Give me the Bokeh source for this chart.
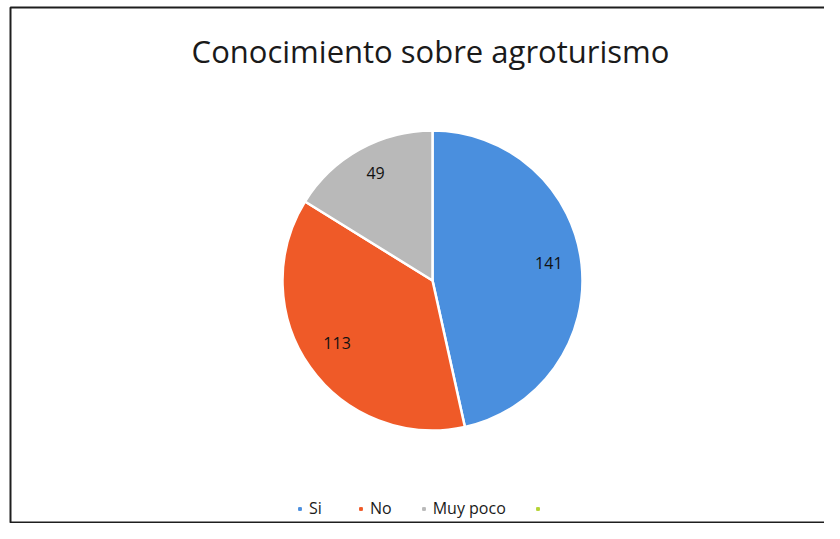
import math
from bokeh.plotting import figure
from bokeh.models import ColumnDataSource, Legend, LegendItem, Range1d
from bokeh.core.properties import value
from bokeh.embed import file_html
from bokeh.resources import INLINE

title_text = "Conocimiento sobre agroturismo"
categories = ["Si", "No", "Muy poco", ""]
counts = [141, 113, 49, 0]
colors = ["#4a8fde", "#ef5a28", "#b9b9b9", "#b5d334"]

W, H = 824, 523
cx, cy, R = 432, H - 280, 150

total = sum(counts)
starts, ends, lx, ly, labels, cols = [], [], [], [], [], []
ang = math.pi / 2
for c, col in zip(counts, colors):
    if c <= 0:
        continue
    sweep = 2 * math.pi * c / total
    starts.append(ang - sweep)
    ends.append(ang)
    mid = ang - sweep / 2
    lx.append(cx + 0.78 * R * math.cos(mid))
    ly.append(cy + 0.78 * R * math.sin(mid) + 5)
    labels.append(str(c))
    cols.append(col)
    ang -= sweep

src = ColumnDataSource(dict(start=starts, end=ends, color=cols, lx=lx, ly=ly, lab=labels))

p = figure(width=W, height=H, output_backend="svg", toolbar_location=None,
           x_range=Range1d(0, W), y_range=Range1d(0, H), min_border=0,
           background_fill_color="white", border_fill_color="white")
p.axis.visible = False
p.grid.visible = False
p.outline_line_color = None

# chart frame
p.quad(left=[10], right=[W + 10], top=[H - 7], bottom=[1],
       fill_color=None, line_color="#1e1e1e", line_width=2)

p.wedge(x=cx, y=cy, radius=R, start_angle="start", end_angle="end",
        fill_color="color", line_color="white", line_width=2.5, source=src)

p.text(x="lx", y="ly", text="lab", source=src, text_align="center",
       text_baseline="middle", text_font=value("Open Sans"),
       text_font_size="16px", text_color="#111111")

p.text(x=[cx - 2], y=[H - 50], text=[title_text], text_align="center",
       text_baseline="middle", text_font=value("Open Sans"),
       text_font_size="31px", text_color="#1a1a1a")

items = []
for cat, col in zip(categories, colors):
    r = p.scatter(x=[-100], y=[-100], marker="square", size=7, fill_color=col, line_color=col)
    items.append(LegendItem(label=cat, renderers=[r]))
legend = Legend(items=items, orientation="horizontal", location=(296, 4),
                glyph_width=7, glyph_height=7, label_text_font="Open Sans",
                label_text_font_size="16px", label_text_color="#1a1a1a",
                spacing=28, label_standoff=6, border_line_color=None,
                background_fill_alpha=0, padding=4, margin=0)
p.add_layout(legend, "center")

open("out.html", "w").write(file_html(p, INLINE))
